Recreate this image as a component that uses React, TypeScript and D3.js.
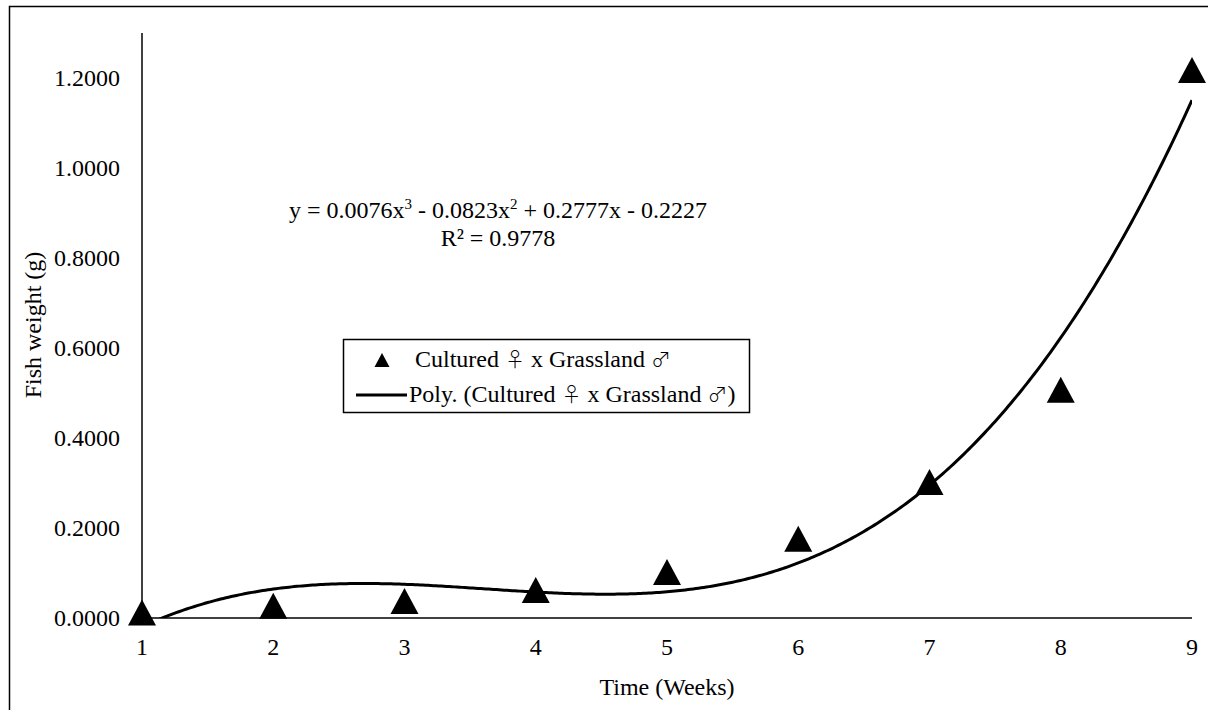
import React from "react";
import * as d3 from "d3";

const weeks = [1, 2, 3, 4, 5, 6, 7, 8, 9];
const weights = [0.012, 0.027, 0.038, 0.062, 0.102, 0.176, 0.302, 0.507, 1.218];
const polyCoefs = [0.0076, -0.0823, 0.2777, -0.2227]; // x^3, x^2, x, const
const yTicks = [0, 0.2, 0.4, 0.6, 0.8, 1.0, 1.2];
const female = "\u2640";
const male = "\u2642";
const rSquared = "R\u00B2 = 0.9778";

const W = 1208;
const H = 710;
const FONT = "'Liberation Serif', 'Times New Roman', serif";
const SYM_FONT = "'Noto Sans CJK JP', 'DejaVu Sans', sans-serif";
const FS = 24;

const triBox = {
  draw(ctx: any, size: number) {
    const w = Math.sqrt(size);
    const h = w * 0.93;
    ctx.moveTo(0, -h / 2);
    ctx.lineTo(w / 2, h / 2);
    ctx.lineTo(-w / 2, h / 2);
    ctx.closePath();
  },
};

function Sym({ c }: { c: string }) {
  return (
    <tspan fontFamily={SYM_FONT} fontSize={20} fontWeight={300}>
      {c}
    </tspan>
  );
}

export default function App() {
  const x = d3.scaleLinear().domain([1, 9]).range([142, 1192]);
  const y = d3.scaleLinear().domain([0, 1.3]).range([618, 33]);

  const poly = (v: number) =>
    polyCoefs[0] * v * v * v + polyCoefs[1] * v * v + polyCoefs[2] * v + polyCoefs[3];
  const trendXs = d3.range(1, 9.0001, 0.02);
  const line = d3
    .line<number>()
    .x((d) => x(d))
    .y((d) => y(poly(d)))
    .curve(d3.curveLinear);

  const marker = d3.symbol().type(triBox as any).size(28 * 28)();
  const legendMarker = d3.symbol().type(triBox as any).size(15 * 15)();

  return (
    <div style={{ position: "absolute", left: 0, top: 0 }}>
      <svg width={W} height={H} style={{ display: "block" }} fontFamily={FONT}>
        <rect x={0} y={0} width={W} height={H} fill="#fff" />
        <rect x={9.5} y={6.5} width={W + 20} height={H + 20} fill="none" stroke="#000" strokeWidth={1.5} />
        <defs>
          <clipPath id="plotClip">
            <rect x={x(1)} y={y(1.3)} width={x(9) - x(1)} height={y(0) - y(1.3)} />
          </clipPath>
        </defs>

        {/* axes */}
        <line x1={x(1)} x2={x(1)} y1={y(1.3)} y2={y(0)} stroke="#000" strokeWidth={1.5} />
        <line x1={x(1)} x2={x(9)} y1={y(0)} y2={y(0)} stroke="#000" strokeWidth={1.5} />

        {/* y tick labels */}
        {yTicks.map((t) => (
          <text key={t} x={120} y={y(t)} dy="0.35em" textAnchor="end" fontSize={FS} fill="#000">
            {d3.format(".4f")(t)}
          </text>
        ))}
        {/* x tick labels */}
        {weeks.map((w) => (
          <text key={w} x={x(w)} y={655} textAnchor="middle" fontSize={FS} fill="#000">
            {w}
          </text>
        ))}

        {/* axis titles */}
        <text x={667} y={695} textAnchor="middle" fontSize={FS} fill="#000">
          Time (Weeks)
        </text>
        <text
          transform={`translate(41,325) rotate(-90)`}
          textAnchor="middle"
          fontSize={FS}
          fill="#000"
        >
          Fish weight (g)
        </text>

        {/* trendline */}
        <path
          d={line(trendXs) || ""}
          fill="none"
          stroke="#000"
          strokeWidth={3}
          clipPath="url(#plotClip)"
        />

        {/* markers */}
        {weeks.map((w, i) => (
          <path key={w} d={marker || ""} transform={`translate(${x(w)},${y(weights[i])})`} fill="#000" />
        ))}

        {/* equation */}
        <text x={498} y={218} textAnchor="middle" fontSize={FS} fill="#000">
          y = 0.0076x<tspan fontSize={15} dy={-9}>3</tspan>
          <tspan dy={9}> - 0.0823x</tspan>
          <tspan fontSize={15} dy={-9}>2</tspan>
          <tspan dy={9}> + 0.2777x - 0.2227</tspan>
        </text>
        <text x={498} y={246} textAnchor="middle" fontSize={FS} fill="#000">
          {rSquared}
        </text>

        {/* legend */}
        <rect x={343.5} y={339.5} width={406} height={73} fill="#fff" stroke="#000" strokeWidth={1.5} />
        <path d={legendMarker || ""} transform="translate(382,360)" fill="#000" />
        <text x={415} y={367} fontSize={FS} fill="#000">
          Cultured <Sym c={female} /> x Grassland <Sym c={male} />
        </text>
        <line x1={356} x2={407} y1={395} y2={395} stroke="#000" strokeWidth={3} />
        <text x={409} y={402} fontSize={FS} fill="#000">
          Poly. (Cultured <Sym c={female} /> x Grassland <Sym c={male} />)
        </text>
      </svg>
    </div>
  );
}
